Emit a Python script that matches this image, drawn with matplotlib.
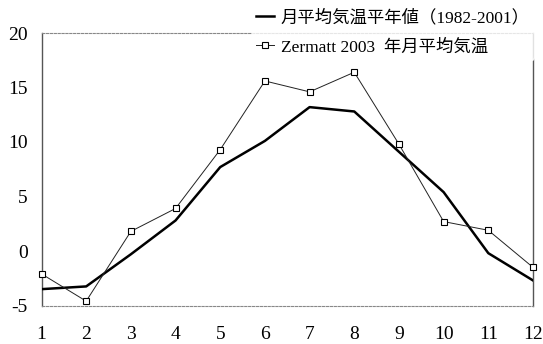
import matplotlib
matplotlib.use("Agg")
import matplotlib.pyplot as plt

plt.rcParams['font.family'] = ['Liberation Serif', 'Noto Sans CJK JP', 'DejaVu Sans']

months = [1, 2, 3, 4, 5, 6, 7, 8, 9, 10, 11, 12]
normal_temp = [-3.5, -3.25, -0.3, 2.8, 7.7, 10.1, 13.2, 12.8, 9.1, 5.4, -0.2, -2.7]
zermatt_2003 = [-2.1, -4.6, 1.8, 3.9, 9.3, 15.6, 14.6, 16.4, 9.8, 2.7, 1.9, -1.5]
label_normal = "月平均気温平年値（1982-2001）"
label_2003 = "Zermatt 2003  年月平均気温"
yticks = [-5, 0, 5, 10, 15, 20]

fig = plt.figure(figsize=(5.43, 3.44), dpi=100)
ax = fig.add_axes([41.5/543, 38.5/344, 491.5/543, 272.5/344])

ax.plot(months, normal_temp, color='black', lw=1.8, label=label_normal, zorder=3)
ax.plot(months, zermatt_2003, color='#222222', lw=0.7, marker='s', markersize=5,
        markerfacecolor='white', markeredgecolor='black', markeredgewidth=0.8,
        label=label_2003, zorder=4, clip_on=False)

ax.set_xlim(1, 12)
ax.set_ylim(-5, 20)
ax.set_xticks(months)
ax.set_yticks(yticks)
ax.set_yticklabels([str(v) for v in yticks])
ax.tick_params(length=0, labelsize=14, pad=10)
ax.tick_params(axis='x', pad=15)
for s in ['top', 'bottom']:
    ax.spines[s].set_linestyle((0, (2, 1.5)))
    ax.spines[s].set_color('#888888')
    ax.spines[s].set_linewidth(0.8)
for s in ['left', 'right']:
    ax.spines[s].set_linestyle((0, (3, 1)))
    ax.spines[s].set_color('#555555')
    ax.spines[s].set_linewidth(1.0)

leg = fig.legend(loc='upper left', bbox_to_anchor=(252/543, 1.0 - 5/344), frameon=True,
                 fontsize=12.5, handlelength=1.0, handletextpad=0.4,
                 labelspacing=0.75, borderpad=0.25, borderaxespad=0.0)
leg.get_frame().set_facecolor('white')
leg.get_frame().set_edgecolor('white')
leg.set_zorder(10)

fig.savefig('out.png', dpi=100)
